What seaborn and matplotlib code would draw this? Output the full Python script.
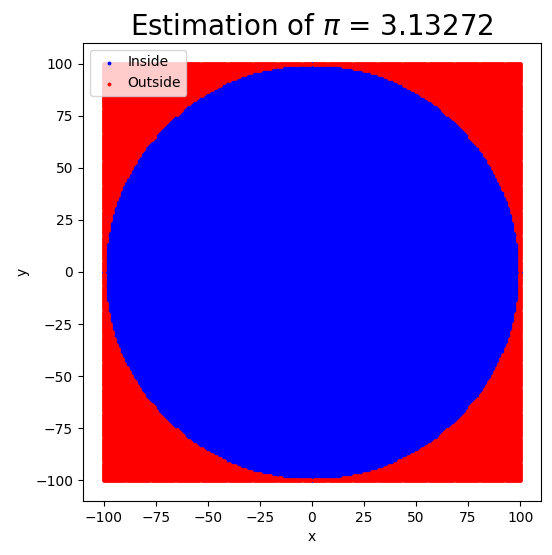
import numpy as np
import pandas as pd
import matplotlib
matplotlib.use("Agg")
import matplotlib.pyplot as plt
import seaborn as sns

pi_estimate = 3.13272
radius = 100
grid_step = 1.0
labels = ["Inside", "Outside"]
colors = ["blue", "red"]

coords = np.arange(-radius, radius + grid_step, grid_step)
gx, gy = np.meshgrid(coords, coords)
gx = gx.ravel(); gy = gy.ravel()
inside = gx**2 + gy**2 <= radius**2
df = pd.DataFrame({"x": gx, "y": gy,
                   "region": np.where(inside, labels[0], labels[1])})

fig, ax = plt.subplots(figsize=(5.52, 5.55), dpi=100)
for lab, col in zip(labels, colors):
    d = df[df.region == lab]
    sns.scatterplot(data=d, x="x", y="y", color=col, s=12, linewidth=0,
                    marker="o", ax=ax, label=lab)
ax.set_aspect("equal")
ax.set_xlim(-110, 110)
ax.set_ylim(-110, 110)
ax.set_xticks(range(-100, 101, 25))
ax.set_yticks(range(-100, 101, 25))
ax.set_title(r"Estimation of $\pi$ = " + f"{pi_estimate}", fontsize=20)
ax.legend(loc="upper left", markerscale=0.8, handletextpad=0.3)
plt.subplots_adjust(left=0.15, right=0.98, top=0.93, bottom=0.09)
fig.savefig("out.png", dpi=100)
